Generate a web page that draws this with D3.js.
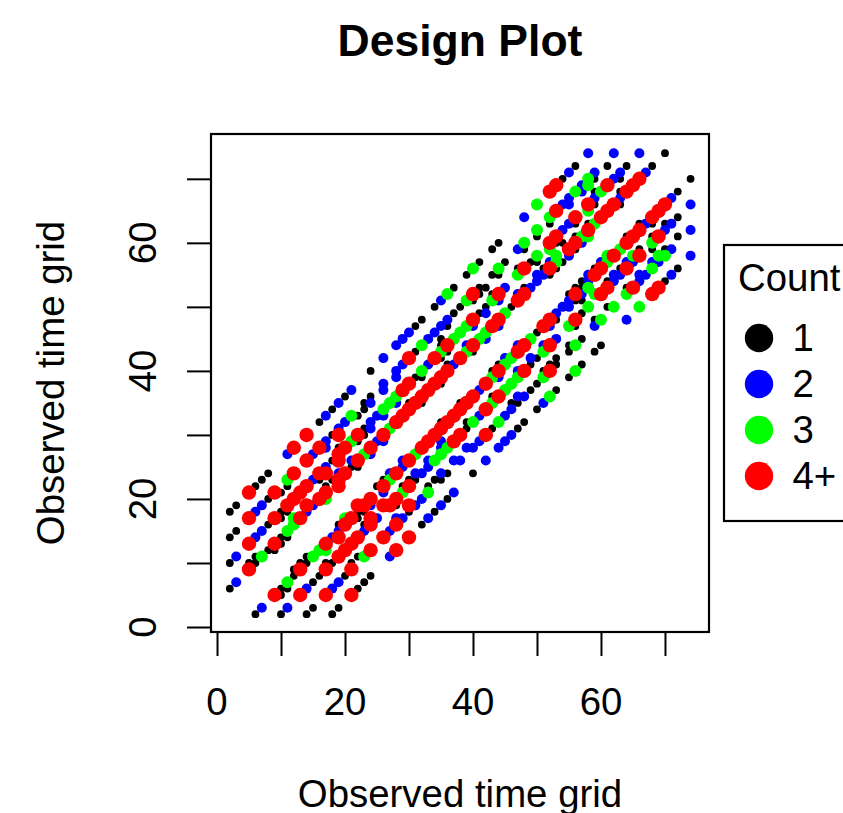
<!DOCTYPE html>
<html>
<head>
<meta charset="utf-8">
<script src="https://cdnjs.cloudflare.com/ajax/libs/d3/7.8.5/d3.min.js"></script>
<style>
html,body{margin:0;padding:0;background:#fff;overflow:hidden}
svg{display:block}
text{font-family:"Liberation Sans",Arial,sans-serif;fill:#000}
</style>
</head>
<body>
<svg id="c" width="843" height="813"></svg>
<script>
const chartTitle = "Design Plot";
const xAxisTitle = "Observed time grid";
const yAxisTitle = "Observed time grid";
const legendTitle = "Count";
const legendLabels = ["1", "2", "3", "4+"];
const seriesColors = ["#000000", "#0000ff", "#00ff00", "#ff0000"];
const axisTicks = [0, 10, 20, 30, 40, 50, 60, 70];
const labelledX = [0, 20, 40, 60];
const yTicks = [0, 10, 20, 30, 40, 50, 60, 70];
const labelledY = [0, 20, 40, 60];

const count1 = [[2,6],[2,10],[2,14],[2,18],[3,19],[3,15],[6,2],[10,2],[14,2],[15,3],[18,2],[19,3],[10,5],[10,6],[11,6],[12,8],[12,9],[13,10],[14,10],[14,11],[16,8],[15,7],[6,22],[7,23],[8,24],[8,20],[11,22],[10,21],[10,18],[10,17],[11,18],[8,16],[10,14],[11,14],[10,13],[6,11],[8,12],[9,12],[6,10],[5,10],[16,32],[18,34],[20,36],[18,30],[19,28],[18,26],[22,29],[22,33],[23,34],[23,35],[24,36],[23,31],[23,30],[30,35],[32,35],[35,38],[16,23],[18,23],[17,22],[21,25],[22,25],[17,10],[18,10],[23,16],[19,16],[22,17],[22,18],[23,18],[25,22],[26,23],[30,23],[31,23],[29,22],[28,19],[33,22],[34,23],[35,23],[36,24],[36,20],[34,18],[32,16],[30,18],[35,32],[38,35],[22,11],[21,10],[20,8],[22,6],[23,7],[24,8],[24,40],[31,43],[31,47],[32,48],[35,45],[36,47],[34,50],[37,53],[38,50],[37,49],[40,51],[41,52],[41,53],[42,53],[39,55],[41,57],[42,50],[41,49],[35,44],[36,43],[35,42],[36,41],[31,39],[32,39],[40,43],[43,52],[46,50],[48,53],[43,55],[44,55],[45,57],[49,57],[50,57],[51,56],[43,40],[47,44],[43,36],[39,32],[39,31],[40,24],[43,31],[46,35],[47,35],[49,37],[50,38],[51,40],[52,41],[53,41],[53,42],[50,42],[50,46],[53,48],[56,47],[55,44],[55,43],[57,45],[55,39],[57,41],[50,34],[53,37],[48,32],[47,31],[57,53],[56,53],[55,52],[57,49],[56,51],[56,72],[54,70],[61,72],[59,70],[59,68],[63,70],[64,72],[68,72],[70,74],[63,68],[63,66],[58,63],[56,61],[74,70],[72,68],[72,64],[70,63],[66,63],[68,63],[64,61],[59,56],[57,54],[61,54],[63,56],[66,59],[68,61],[70,59],[72,56],[72,61],[68,59],[70,54],[64,53],[61,50],[59,48],[57,51],[60,44],[59,43],[59,66],[52,63],[56,63],[50,61],[53,60],[54,60],[48,59],[54,57],[56,59],[53,56],[52,55],[47,56],[43,59],[44,60],[49,41],[44,41]];

const count2 = [[3,11],[3,7],[7,3],[11,3],[14,6],[19,7],[18,6],[21,37],[19,35],[17,33],[11,27],[15,27],[17,29],[17,28],[19,31],[20,32],[24,35],[24,31],[24,32],[25,33],[26,33],[28,35],[26,37],[26,38],[24,27],[21,26],[25,29],[26,29],[7,19],[6,18],[15,23],[17,25],[19,24],[15,19],[14,18],[7,15],[6,14],[23,15],[19,15],[18,14],[24,19],[26,21],[27,24],[29,25],[29,26],[31,24],[32,24],[33,25],[33,26],[35,28],[37,26],[38,26],[31,19],[32,20],[35,24],[37,21],[35,19],[33,17],[29,17],[28,17],[27,15],[27,11],[25,17],[26,42],[28,40],[28,39],[28,44],[29,45],[30,46],[29,41],[33,45],[34,46],[35,47],[36,48],[35,51],[42,49],[40,47],[33,41],[37,41],[39,44],[42,45],[44,47],[44,51],[45,53],[47,52],[49,53],[50,55],[51,55],[50,54],[52,57],[41,37],[44,39],[45,42],[47,40],[41,33],[35,29],[39,28],[40,28],[41,29],[45,33],[46,34],[47,36],[48,36],[49,42],[51,44],[53,45],[52,47],[53,49],[54,50],[55,50],[51,35],[46,30],[45,29],[44,28],[42,26],[55,51],[58,55],[58,74],[62,74],[66,74],[55,71],[59,71],[57,69],[57,68],[62,70],[63,71],[67,71],[63,67],[71,67],[74,66],[74,62],[71,63],[67,63],[60,57],[58,54],[57,52],[62,54],[62,55],[63,55],[64,57],[65,57],[70,62],[71,59],[68,57],[69,57],[74,58],[66,55],[67,55],[66,54],[71,55],[64,48],[59,47],[47,44],[48,64],[54,66],[55,66],[55,67],[59,67],[55,63],[54,62],[47,59],[53,57],[55,58],[57,60]];

const count3 = [[11,7],[15,11],[16,12],[17,12],[7,11],[21,33],[21,29],[23,27],[26,34],[27,35],[28,36],[27,31],[11,23],[17,20],[12,17],[12,16],[11,15],[20,17],[23,11],[27,23],[31,27],[29,21],[33,21],[34,26],[35,27],[36,28],[32,44],[36,52],[39,51],[40,56],[35,43],[39,47],[38,46],[37,45],[32,40],[39,43],[41,45],[42,46],[45,49],[43,51],[44,56],[47,55],[53,57],[43,39],[45,41],[46,42],[49,45],[47,39],[46,38],[45,37],[43,35],[40,32],[44,32],[51,39],[51,43],[55,47],[56,44],[56,40],[52,36],[58,50],[58,53],[58,70],[58,69],[56,68],[60,68],[59,63],[58,61],[57,61],[63,59],[61,58],[61,57],[59,52],[65,58],[69,58],[70,58],[68,56],[68,60],[64,52],[66,50],[62,50],[60,48],[50,66],[50,62],[52,64],[58,65],[48,60],[50,58],[52,59],[53,58]];

const count4 = [[9,5],[13,5],[17,5],[21,5],[5,9],[13,9],[17,9],[21,9],[14,30],[12,28],[14,26],[16,28],[19,30],[22,30],[20,28],[19,27],[19,26],[22,26],[24,28],[26,30],[28,32],[29,33],[30,34],[31,35],[32,36],[33,37],[34,38],[29,37],[30,38],[12,24],[9,21],[5,21],[5,17],[9,17],[11,19],[12,20],[13,21],[14,22],[16,24],[17,24],[19,22],[19,23],[20,24],[17,21],[16,20],[14,19],[13,17],[9,13],[5,13],[17,13],[19,11],[20,12],[21,13],[22,14],[24,16],[24,17],[21,17],[20,16],[19,14],[22,19],[23,19],[24,20],[26,22],[28,24],[30,26],[32,28],[33,29],[34,30],[35,31],[36,32],[37,33],[38,34],[39,35],[40,36],[42,38],[44,40],[47,43],[48,44],[26,19],[27,19],[28,20],[30,22],[37,29],[38,30],[30,19],[28,16],[26,14],[30,14],[28,12],[24,12],[30,42],[34,42],[36,44],[38,42],[40,44],[40,48],[43,47],[44,48],[40,52],[44,52],[47,51],[48,52],[48,56],[52,56],[44,36],[42,34],[42,30],[48,40],[52,40],[52,44],[51,47],[52,48],[56,48],[56,52],[53,69],[52,68],[61,69],[66,70],[65,69],[64,68],[62,66],[61,65],[60,64],[58,62],[70,66],[69,65],[68,64],[66,62],[65,61],[64,60],[62,58],[60,56],[59,55],[60,52],[61,53],[64,56],[66,58],[69,61],[69,53],[68,52],[65,53],[53,65],[58,66],[56,64],[53,61],[52,60],[55,59],[56,60],[35,39],[36,40]];

const seriesData = [count1, count2, count3, count4];
const radii = [3.9, 5, 6, 7.2];

const svg = d3.select("#c");
const L = 211, R = 709, T = 134, B = 632;
const x = d3.scaleLinear().domain([-0.94, 76.88]).range([L, R]);
const y = d3.scaleLinear().domain([-0.78, 77]).range([B, T]);

const axisFont = 38.4;
const gx = svg.append("g").attr("transform", `translate(0,${B})`)
  .call(d3.axisBottom(x).tickValues(axisTicks).tickSize(24).tickPadding(0).tickFormat(""));
gx.select(".domain").remove();
gx.append("line").attr("x1", x(axisTicks[0])).attr("x2", x(axisTicks[axisTicks.length-1])).attr("stroke", "#000").attr("stroke-width", 2);
gx.selectAll(".tick line").attr("stroke", "#000").attr("stroke-width", 2);
labelledX.forEach(v => {
  svg.append("text").attr("x", x(v)).attr("y", 715).attr("text-anchor", "middle").attr("font-size", axisFont).text(v);
});

const gy = svg.append("g").attr("transform", `translate(${L},0)`)
  .call(d3.axisLeft(y).tickValues(yTicks).tickSize(24).tickFormat(""));
gy.select(".domain").remove();
gy.append("line").attr("y1", y(yTicks[0])).attr("y2", y(yTicks[yTicks.length-1])).attr("stroke", "#000").attr("stroke-width", 2);
gy.selectAll(".tick line").attr("stroke", "#000").attr("stroke-width", 2);
labelledY.forEach(v => {
  svg.append("text").attr("transform", `translate(156,${y(v)}) rotate(-90)`)
    .attr("text-anchor", "middle").attr("font-size", axisFont).text(v);
});

seriesData.forEach((pts, i) => {
  svg.append("g").selectAll("circle").data(pts).join("circle")
    .attr("cx", d => x(d[0])).attr("cy", d => y(d[1]))
    .attr("r", radii[i]).attr("fill", seriesColors[i]);
});

svg.append("rect").attr("x", L).attr("y", T).attr("width", R-L).attr("height", B-T)
  .attr("fill", "none").attr("stroke", "#000").attr("stroke-width", 2.2);

svg.append("text").attr("x", 460).attr("y", 56).attr("text-anchor", "middle")
  .attr("font-size", 44.5).attr("font-weight", "bold").text(chartTitle);
svg.append("text").attr("x", 460).attr("y", 807).attr("text-anchor", "middle")
  .attr("font-size", axisFont).text(xAxisTitle);
svg.append("text").attr("transform", "translate(63.5,383) rotate(-90)").attr("text-anchor", "middle")
  .attr("font-size", axisFont).text(yAxisTitle);

svg.append("rect").attr("x", 724).attr("y", 245).attr("width", 140).attr("height", 276)
  .attr("fill", "#fff").attr("stroke", "#000").attr("stroke-width", 2.2);
svg.append("text").attr("x", 738).attr("y", 291).attr("font-size", axisFont).text(legendTitle);
const legendY = d3.scalePoint().domain(legendLabels).range([338, 476]);
legendLabels.forEach((lab, i) => {
  svg.append("circle").attr("cx", 759).attr("cy", legendY(lab)).attr("r", 14.2).attr("fill", seriesColors[i]);
  svg.append("text").attr("x", 792.5).attr("y", legendY(lab) + 13).attr("font-size", axisFont).text(lab);
});
</script>
</body>
</html>
